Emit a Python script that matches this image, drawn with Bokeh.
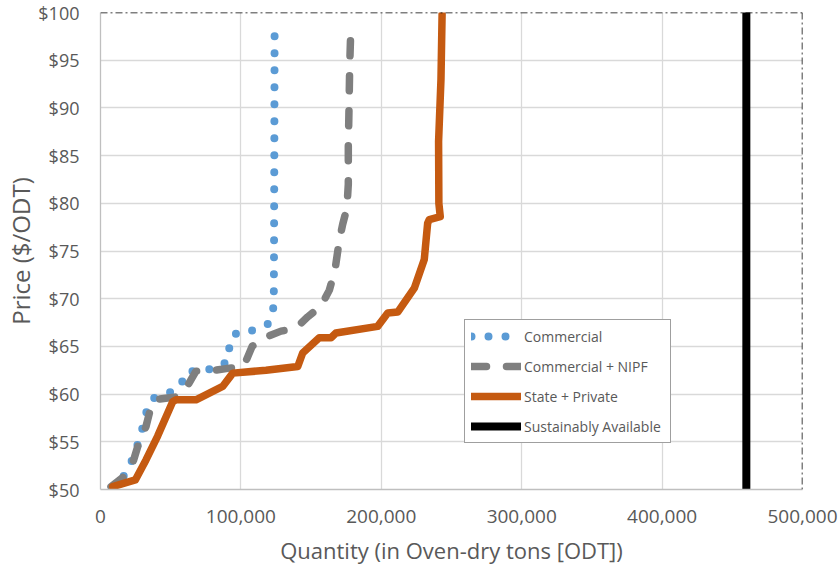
from bokeh.plotting import figure
from bokeh.models import Range1d, FixedTicker, NumeralTickFormatter, Legend, LegendItem, Span
from bokeh.embed import file_html
from bokeh.resources import INLINE

# ---- data ----
commercial_x = [8000, 15000, 24000, 30000, 32400, 36500, 47400, 57300, 60400, 72800,
                85000, 91700, 91700, 97400, 109500, 119800, 123400, 123600, 123800, 124000]
commercial_y = [50.2, 51.0, 53.5, 56.5, 58.0, 59.5, 60.0, 60.9, 62.3, 62.5,
                62.8, 63.7, 65.5, 66.5, 66.7, 67.4, 69.2, 75.0, 85.0, 98.0]

nipf_x = [7500, 17000, 23000, 26500, 32400, 34800, 38300, 47800, 53800, 60900,
          68000, 81000, 90600, 102000, 108000, 116700, 128600, 139000, 147600, 157000,
          163000, 167000, 170000, 172500, 175500, 176500, 176500, 177000, 177500, 178400]
nipf_y = [50.3, 51.4, 52.8, 54.5, 56.6, 58.0, 59.4, 59.6, 59.7, 60.6,
          62.4, 62.5, 62.7, 62.9, 65.0, 65.9, 66.6, 66.9, 68.1, 69.2,
          70.9, 73.0, 76.0, 77.8, 79.5, 82.0, 86.0, 90.0, 94.5, 98.8]

state_x = [8700, 24800, 32400, 40700, 51400, 53800, 68000, 87000, 94200, 117900,
           140500, 144000, 155800, 164200, 167700, 197400, 204600, 211700, 223500, 230600,
           233000, 234200, 242000, 241000, 240800, 242500, 243300]
state_y = [50.3, 51.0, 53.1, 55.6, 59.2, 59.4, 59.4, 60.8, 62.2, 62.5,
           62.9, 64.3, 65.9, 65.9, 66.4, 67.1, 68.5, 68.6, 71.1, 74.1,
           77.9, 78.3, 78.6, 80.0, 86.5, 93.0, 99.8]

sustainable_x = [460000, 460000]
sustainable_y = [50, 100]

series_names = ["Commercial", "Commercial + NIPF", "State + Private", "Sustainably Available"]
x_ticks = [0, 100000, 200000, 300000, 400000, 500000]
y_ticks = [50, 55, 60, 65, 70, 75, 80, 85, 90, 95, 100]

FONT = "Open Sans"
TXT = "#595959"

p = figure(width=838, height=567,
           x_range=Range1d(0, 500000), y_range=Range1d(50, 100),
           output_backend="svg", toolbar_location=None,
           min_border_left=100, min_border_right=36, min_border_top=12, min_border_bottom=77)

p.background_fill_color = "white"
p.border_fill_color = "white"
p.outline_line_color = None

# grid
p.xgrid.grid_line_color = "#D9D9D9"
p.ygrid.grid_line_color = "#D9D9D9"
p.xgrid.grid_line_width = 1.3
p.ygrid.grid_line_width = 1.3

# axes
p.xaxis.ticker = FixedTicker(ticks=x_ticks)
p.yaxis.ticker = FixedTicker(ticks=y_ticks)
p.xaxis.formatter = NumeralTickFormatter(format="0,0")
p.yaxis.formatter = NumeralTickFormatter(format="$0")
for ax in (p.xaxis, p.yaxis):
    ax.major_tick_out = 0
    ax.major_tick_in = 0
    ax.minor_tick_out = 0
    ax.minor_tick_in = 0
    ax.axis_line_color = "#BFBFBF"
    ax.axis_line_width = 1.3
    ax.major_label_text_font = FONT
    ax.major_label_text_color = TXT
    ax.axis_label_text_font = FONT
    ax.axis_label_text_font_style = "normal"
    ax.axis_label_text_color = TXT

p.xaxis.major_label_text_font_size = "19px"
p.yaxis.major_label_text_font_size = "18px"
p.xaxis.axis_label_text_font_size = "22px"
p.yaxis.axis_label_text_font_size = "24px"

p.xaxis.axis_label = "Quantity (in Oven-dry tons [ODT])"
p.yaxis.axis_label = "Price ($/ODT)"
p.xaxis.major_label_standoff = 20
p.xaxis.axis_label_standoff = 9
p.yaxis.major_label_standoff = 21
p.yaxis.axis_label_standoff = -2

# dash-dot top & right borders
p.add_layout(Span(location=100, dimension="width", line_color="black",
                  line_width=1.5, line_dash="7 3 2 3"))
p.add_layout(Span(location=500000, dimension="height", line_color="black",
                  line_width=1.5, line_dash="7 3 2 3"))

r1 = p.line(commercial_x, commercial_y, line_color="#5B9BD5", line_width=8,
            line_dash="0 17", line_cap="round", line_join="round")
r2 = p.line(nipf_x, nipf_y, line_color="#7F7F7F", line_width=7.5,
            line_dash="15 20", line_cap="round", line_join="round")
r3 = p.line(state_x, state_y, line_color="#C55A11", line_width=7.5,
            line_cap="round", line_join="round")
r4 = p.line(sustainable_x, sustainable_y, line_color="black", line_width=8,
            line_cap="round", line_join="round")

legend = Legend(items=[LegendItem(label=n, renderers=[r]) for n, r in zip(series_names, [r1, r2, r3, r4])],
                location=(364, 46))
legend.label_text_font = FONT
legend.label_text_font_size = "14px"
legend.label_text_color = TXT
legend.glyph_width = 50
legend.glyph_height = 20
legend.label_height = 20
legend.label_width = 140
legend.label_standoff = 3
legend.spacing = 10
legend.padding = 6
legend.margin = 0
legend.border_line_color = "#404040"
legend.border_line_width = 1.3
legend.background_fill_color = "white"
legend.background_fill_alpha = 1
p.add_layout(legend)

open("out.html", "w").write(file_html(p, INLINE))
